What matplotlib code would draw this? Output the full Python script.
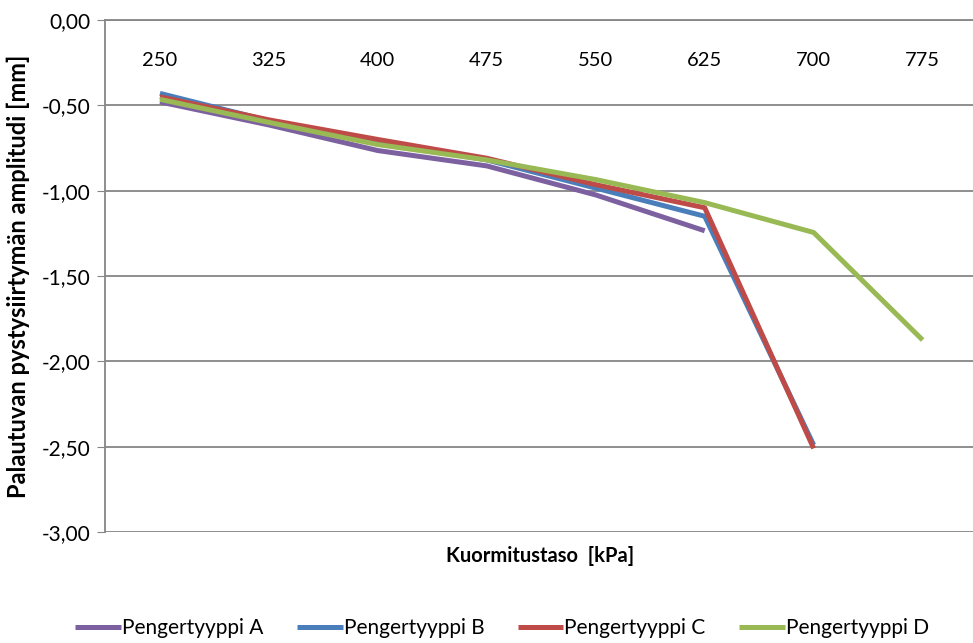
import matplotlib
matplotlib.use("Agg")
import matplotlib.pyplot as plt
import numpy as np

plt.rcParams['font.family'] = ['Lato', 'DejaVu Sans']

# load levels (kPa) and recovered vertical displacement amplitude (mm)
levels = ["250", "325", "400", "475", "550", "625", "700", "775"]
tyyppi_a = [-0.48, -0.615, -0.765, -0.855, -1.025, -1.235]
tyyppi_b = [-0.43, -0.59, -0.71, -0.82, -0.985, -1.15, -2.49]
tyyppi_c = [-0.45, -0.585, -0.70, -0.81, -0.965, -1.10, -2.51]
tyyppi_d = [-0.465, -0.60, -0.73, -0.82, -0.935, -1.07, -1.245, -1.875]

series = [
    ("Pengertyyppi A", tyyppi_a, "#7D60A0"),
    ("Pengertyyppi B", tyyppi_b, "#4A7EBB"),
    ("Pengertyyppi C", tyyppi_c, "#BE4B48"),
    ("Pengertyyppi D", tyyppi_d, "#98B954"),
]

fig = plt.figure(figsize=(9.73, 6.43), dpi=100)
ax = fig.add_axes([0.1084, 0.1726, 0.8958, 0.7963])

for name, vals, col in series:
    ax.plot(np.arange(len(vals)), vals, color=col, lw=3.6, label=name,
            solid_joinstyle="round", solid_capstyle="butt", zorder=3)

ax.set_xlim(-0.5, len(levels) - 0.5)
ax.set_ylim(-3.0, 0.0)

yt = np.arange(0, -3.01, -0.5)
ax.set_yticks(yt)
ax.set_yticklabels([f"{v:.2f}".replace(".", ",") for v in yt], fontsize=15)
ax.yaxis.grid(True, color="#868686", lw=1.3)
ax.set_axisbelow(True)
ax.tick_params(axis="y", direction="out", length=6, color="#868686", pad=5)

# category axis sits at y = 0 (top), labels just below it
ax.xaxis.tick_top()
ax.set_xticks(np.arange(len(levels)))
ax.set_xticklabels(levels, fontsize=14.5)
ax.tick_params(axis="x", length=0, direction="in", pad=-35)

for s in ["right", "bottom"]:
    ax.spines[s].set_visible(False)
ax.spines["left"].set_color("#868686")
ax.spines["top"].set_color("#868686")
ax.spines["left"].set_linewidth(1.3)
ax.spines["top"].set_linewidth(1.3)

ax.set_ylabel("Palautuvan pystysiirtymän amplitudi [mm]", fontsize=17,
              fontweight="bold", labelpad=8)
fig.text(0.555, 0.136, "Kuormitustaso  [kPa]", fontsize=14.5,
         fontweight="bold", ha="center", va="center")

fig.legend(loc="center", bbox_to_anchor=(0.516, 0.023), ncol=4, frameon=False,
           fontsize=15, handlelength=2.2, handletextpad=0.05, columnspacing=1.6)

fig.savefig("out.png", dpi=100, facecolor="white")
